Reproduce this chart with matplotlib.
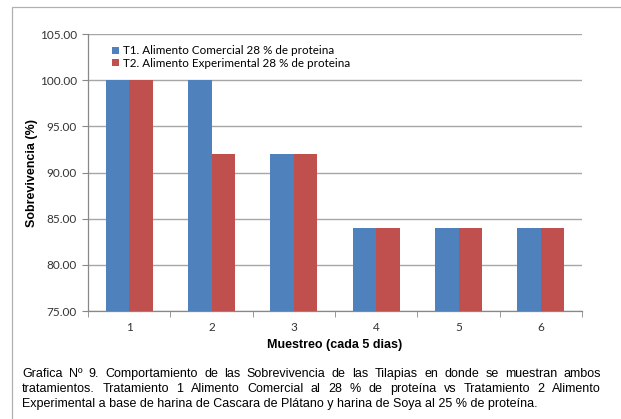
import numpy as np
import matplotlib
matplotlib.use("Agg")
import matplotlib.pyplot as plt
from matplotlib.patches import Rectangle

# ── Datos ────────────────────────────────────────────────────────────────────
muestreos = ["1", "2", "3", "4", "5", "6"]
t1_comercial = [100, 100, 92, 84, 84, 84]
t2_experimental = [100, 92, 92, 84, 84, 84]
etiqueta_t1 = "T1. Alimento Comercial 28 % de proteina"
etiqueta_t2 = "T2. Alimento Experimental 28 % de proteina"
yticks = [75, 80, 85, 90, 95, 100, 105]

caption_lines = [
    "Grafica Nº 9. Comportamiento de las Sobrevivencia de las Tilapias en donde se muestran ambos",
    "tratamientos. Tratamiento 1 Alimento Comercial al 28 % de proteína vs Tratamiento 2 Alimento",
    "Experimental a base de harina de Cascara de Plátano y harina de Soya al 25 % de proteína.",
]

fuente_texto = "Liberation Sans"
fuente_ticks = "Lato"

AZUL = "#4F81BD"
ROJO = "#C0504D"

W, H = 621, 419
fig = plt.figure(figsize=(W / 100, H / 100), dpi=100)
fig.patch.set_facecolor("white")

# marco exterior (solo se ven borde izquierdo y superior)
fig.patches.append(Rectangle((12 / W, -0.1), 1.2, 1 - 7 / H + 0.1,
                             transform=fig.transFigure, fill=False,
                             edgecolor="#b0b0b0", lw=0.9))

ax = fig.add_axes([88 / W, 1 - 311 / H, (582 - 88) / W, (311 - 34) / H])
x = np.arange(len(muestreos))
ancho = 0.285
ax.bar(x - ancho / 2, t1_comercial, ancho, color=AZUL, label=etiqueta_t1, zorder=3)
ax.bar(x + ancho / 2, t2_experimental, ancho, color=ROJO, label=etiqueta_t2, zorder=3)

ax.set_ylim(75, 105)
ax.set_xlim(-0.5, len(muestreos) - 0.5)
ax.set_yticks(yticks)
ax.set_yticklabels([f"{v:.2f}" for v in yticks], fontfamily=fuente_ticks, fontsize=8.5, color="#333333")
ax.set_xticks(x)
ax.set_xticklabels(muestreos, fontfamily=fuente_ticks, fontsize=8.5, color="#333333")
ax.set_xticks(np.arange(-0.5, len(muestreos)), minor=True)
ax.tick_params(axis="x", which="major", length=0, pad=8)
ax.tick_params(axis="x", which="minor", length=4, color="#888888")
ax.tick_params(axis="y", length=4, color="#888888", pad=4)

ax.grid(axis="y", color="#a6a6a6", lw=1.0, zorder=0)
for s in ["top", "right"]:
    ax.spines[s].set_visible(False)
for s in ["left", "bottom"]:
    ax.spines[s].set_color("#888888")
    ax.spines[s].set_linewidth(0.9)

ax.set_ylabel("Sobrevivencia (%)", fontfamily=fuente_texto, fontweight="bold", fontsize=9, labelpad=1)
ax.set_xlabel("Muestreo (cada 5 dias)", fontfamily=fuente_texto, fontweight="bold", fontsize=9, labelpad=4)

ax.legend(loc="upper left", bbox_to_anchor=(0.035, 0.985), frameon=False,
          prop={"family": fuente_ticks, "size": 8.4}, handlelength=0.55, handleheight=0.55,
          handletextpad=0.35, labelspacing=0.15, borderaxespad=0.2)

# ── Leyenda de la figura, justificada ───────────────────────────────────────
renderer = fig.canvas.get_renderer()
x0, x1 = 22 / W, 601 / W
y_lineas = [374, 389, 404]
for i, (linea, yl) in enumerate(zip(caption_lines, y_lineas)):
    yf = 1 - yl / H
    if i == len(caption_lines) - 1:
        fig.text(x0, yf, linea, fontfamily=fuente_texto, fontsize=9, va="center", ha="left")
        continue
    palabras = linea.split(" ")
    textos = [fig.text(0, yf, p, fontfamily=fuente_texto, fontsize=9, va="center", ha="left")
              for p in palabras]
    anchos = [t.get_window_extent(renderer).width / W for t in textos]
    hueco = (x1 - x0 - sum(anchos)) / (len(palabras) - 1)
    pos = x0
    for t, a in zip(textos, anchos):
        t.set_x(pos)
        pos += a + hueco

fig.savefig("out.png", dpi=100)
